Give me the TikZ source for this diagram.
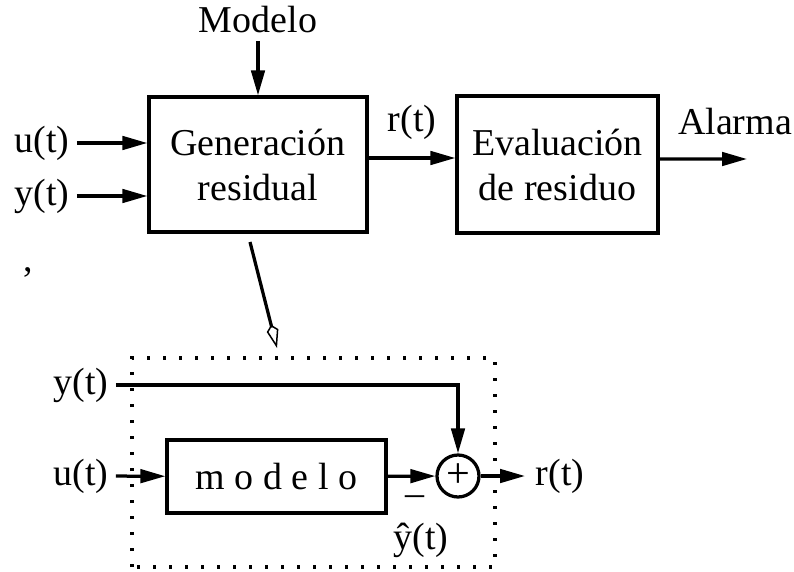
\documentclass[tikz,border=0pt]{standalone}
\usepackage{fontspec}
\setmainfont{Liberation Serif}
\usetikzlibrary{arrows.meta}

\begin{document}
\begin{tikzpicture}[line width=0.065cm,
    every node/.style={font=\fontsize{21.6}{25.6}\selectfont},
    bloque/.style={draw,align=center,inner sep=0pt},
    flecha/.style={-{Triangle[length=0.5cm,width=0.27cm]}}]
\useasboundingbox (0,0) rectangle (15.88,11.42);

% parte de arriba
\node[bloque,minimum width=4.36cm,minimum height=2.70cm] (gen) at (5.16,8.13) {Generación\\residual};
\node[bloque,minimum width=4.02cm,minimum height=2.74cm] (eval) at (11.15,8.13) {Evaluación\\de residuo};
\node (modelo) at (5.16,11.02) {Modelo};
\node (u) at (0.84,8.56) {u(t)};
\node (y) at (0.84,7.50) {y(t)};
\node (r) at (8.24,8.98) {r(t)};
\node (alarma) at (14.7,8.98) {Alarma};
\coordinate (alarmafin) at (14.94,8.24);
\node (coma) at (0.56,5.98) {,};

\draw[flecha] (modelo) -- (gen);
\draw[flecha] (u) -- (u -| gen.west);
\draw[flecha] (y) -- (y -| gen.west);
\draw[flecha] ([yshift=0.13cm]gen.east) -- ([yshift=0.13cm]eval.west);
\draw[flecha] ([yshift=0.11cm]eval.east) -- (alarmafin);

% lupa
\coordinate (lupaini) at (5.0,6.58);
\coordinate (lupafin) at (5.54,4.46);
\draw[-{Kite[open,length=0.48cm,width=0.24cm,inset=0.12cm,line width=0.03cm]}] (lupaini) -- (lupafin);

% parte de abajo
\draw[dash pattern=on 0.065cm off 0.255cm] (2.64,0.08) rectangle (9.90,4.26);
\node (y2) at (1.62,3.72) {y(t)};
\node (u2) at (1.62,1.90) {u(t)};
\node[bloque,minimum width=4.38cm,minimum height=1.46cm] (mod) at (5.53,1.89) {m o d e l o};
\node[draw,circle,minimum size=0.84cm,inner sep=0pt,font=\fontsize{24}{24}\selectfont] (suma) at (9.16,1.90) {+};
\node (menos) at (8.29,1.40) {–};
\node (yest) at (8.42,0.62) {ŷ(t)};
\coordinate (rfin) at (10.5,1.90);
\node (r2) at (11.2,1.90) {r(t)};

\draw[flecha] (y2) -| (suma);
\draw[flecha] (u2) -- (mod);
\draw[flecha] (mod) -- (suma);
\draw[flecha] (suma) -- (rfin);

\end{tikzpicture}
\end{document}
